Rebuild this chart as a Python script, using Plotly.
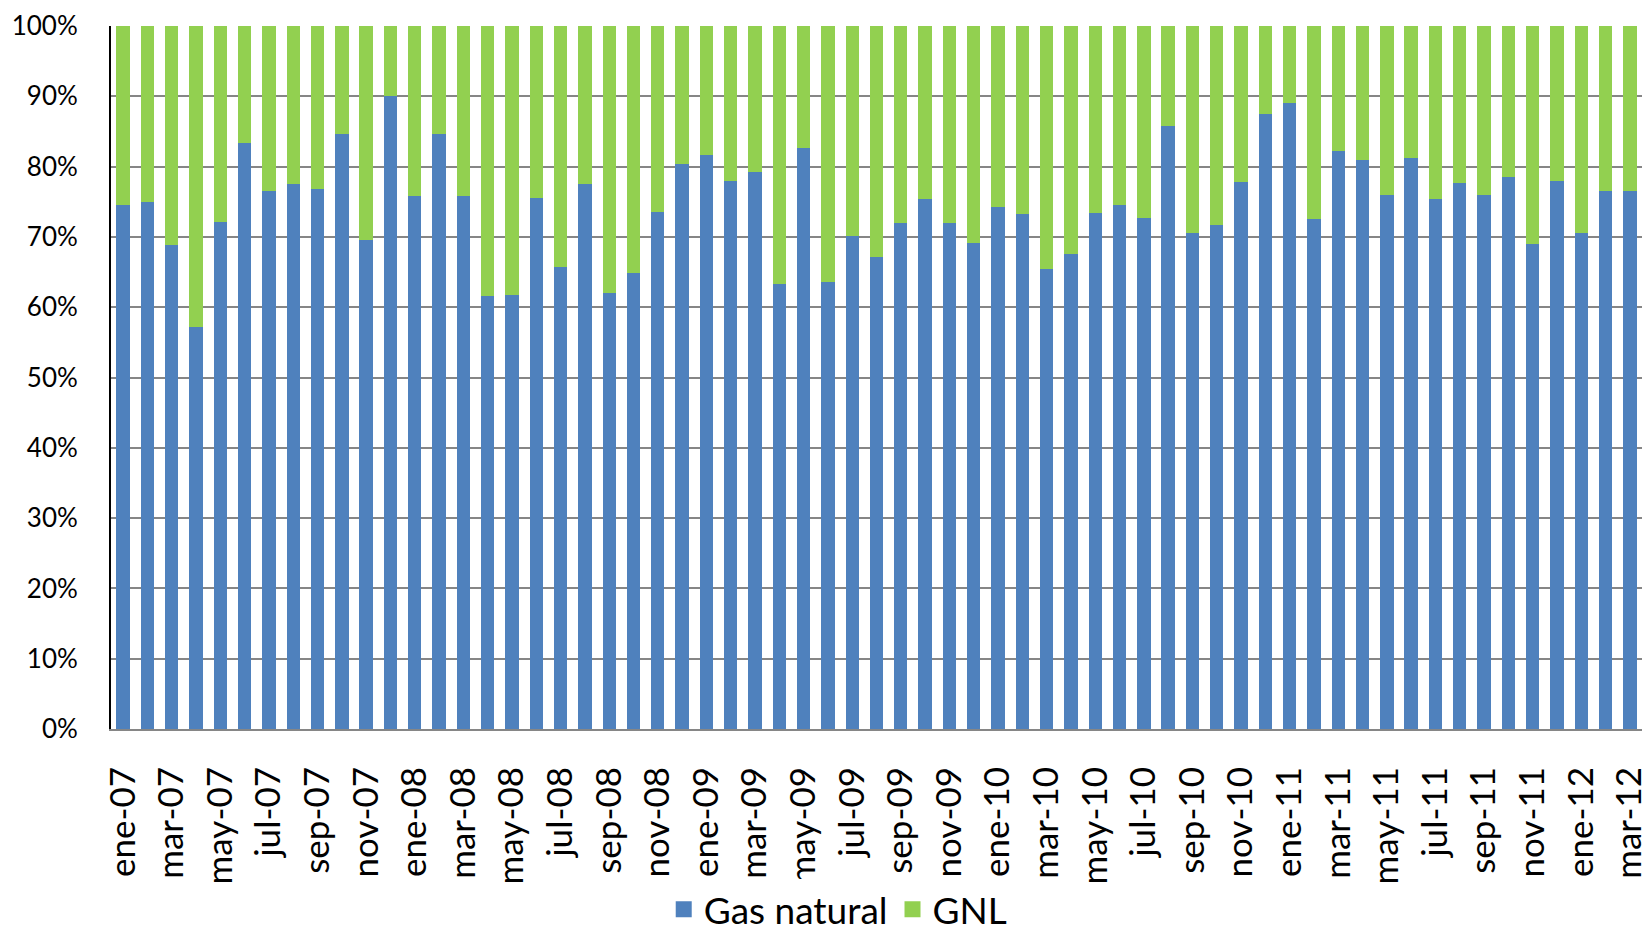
import plotly.graph_objects as go

months = ["ene", "feb", "mar", "abr", "may", "jun", "jul", "ago", "sep", "oct", "nov", "dic"]
categories = [f"{m}-{y:02d}" for y in range(7, 13) for m in months][:63]

gas_natural = [74.6, 75.0, 68.9, 57.2, 72.1, 83.4, 76.6, 77.5, 76.8, 84.7, 69.6, 90.0,
               75.8, 84.6, 75.8, 61.6, 61.8, 75.6, 65.7, 77.5, 62.0, 64.8, 73.5, 80.3,
               81.7, 78.0, 79.3, 63.3, 82.7, 63.6, 70.1, 67.1, 72.0, 75.4, 72.0, 69.1,
               74.2, 73.2, 65.5, 67.5, 73.4, 74.6, 72.7, 85.8, 70.6, 71.7, 77.8, 87.5,
               89.1, 72.5, 82.2, 81.0, 75.9, 81.2, 75.4, 77.6, 75.9, 78.5, 69.0, 77.9,
               70.5, 76.5, 76.5]
gnl = [100 - v for v in gas_natural]

tick_labels = categories[::2]

BLUE = "#4F81BD"
GREEN = "#92D050"
FONT = "Lato"

fig = go.Figure()
fig.add_trace(go.Bar(x=categories, y=gas_natural, name="Gas natural", marker_color=BLUE,
                     marker_line_width=0, showlegend=False))
fig.add_trace(go.Bar(x=categories, y=gnl, name="GNL", marker_color=GREEN,
                     marker_line_width=0, showlegend=False))
# legend entries
fig.add_trace(go.Scatter(x=[None], y=[None], mode="markers", name="Gas natural",
                         marker=dict(symbol="square", size=24, color=BLUE)))
fig.add_trace(go.Scatter(x=[None], y=[None], mode="markers", name="GNL",
                         marker=dict(symbol="square", size=24, color=GREEN)))

fig.update_layout(
    width=1642, height=929,
    barmode="stack", bargap=0.45,
    plot_bgcolor="white", paper_bgcolor="white",
    margin=dict(l=103, r=8, t=18, b=208, autoexpand=False),
    font=dict(family=FONT, size=28, color="black"),
    legend=dict(orientation="h", x=0.475, xanchor="center", y=-0.257, yanchor="middle",
                font=dict(size=37), itemsizing="trace", traceorder="normal"),
)
fig.update_xaxes(
    type="category", tickvals=tick_labels, ticktext=tick_labels, tickangle=-90,
    tickfont=dict(size=35), showgrid=False, showline=True, linecolor="#868686", linewidth=2,
    ticks="", range=[-0.5, 62.5], automargin=False, ticklabelstandoff=22,
    ticklabeloverflow="allow",
)
fig.update_yaxes(
    range=[0, 100], dtick=10, ticksuffix="%", showgrid=True, gridcolor="#868686", gridwidth=2,
    showline=True, linecolor="black", linewidth=2, zeroline=False, ticks="",
    tickfont=dict(size=26), automargin=False, ticklabelstandoff=26,
    ticklabeloverflow="allow",
)

fig.write_html("out.html")
